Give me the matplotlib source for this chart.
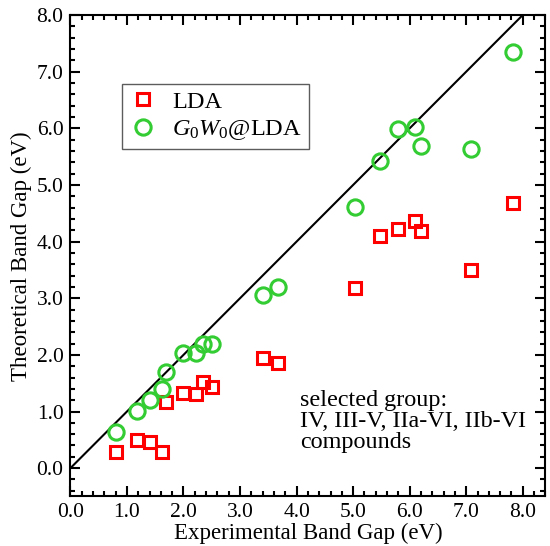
import matplotlib
matplotlib.use("Agg")
import matplotlib.pyplot as plt
from matplotlib.ticker import MultipleLocator, FormatStrFormatter

plt.rcParams['font.family'] = ['Liberation Serif', 'DejaVu Serif']
plt.rcParams['mathtext.fontset'] = 'custom'
plt.rcParams['mathtext.rm'] = 'Liberation Serif'
plt.rcParams['mathtext.it'] = 'Liberation Serif:italic'

# Data (eV)
exp_gap = [0.80, 1.17, 1.41, 1.62, 1.69, 2.00, 2.22, 2.34, 2.51, 3.40, 3.68,
           5.03, 5.48, 5.80, 6.10, 6.20, 7.08, 7.83]
lda_gap = [0.29, 0.50, 0.47, 0.29, 1.16, 1.33, 1.31, 1.52, 1.44, 1.94, 1.86,
           3.18, 4.10, 4.22, 4.37, 4.18, 3.49, 4.68]
gw_gap = [0.64, 1.01, 1.21, 1.40, 1.70, 2.03, 2.03, 2.20, 2.20, 3.05, 3.20,
          4.61, 5.42, 5.98, 6.03, 5.68, 5.63, 7.35]
diag = [0.0, 8.0]

red = '#ff0000'
green = '#33cc33'

fig = plt.figure(figsize=(5.5, 5.46), dpi=100)
ax = fig.add_axes([0.128, 0.0907, 0.8636, 0.8818])

ax.plot(diag, diag, color='black', lw=1.5, zorder=1)
ax.plot(exp_gap, lda_gap, linestyle='none', marker='s', ms=9, mfc='none',
        mec=red, mew=2.2, label='LDA', zorder=2)
ax.plot(exp_gap, gw_gap, linestyle='none', marker='o', ms=11, mfc='none',
        mec=green, mew=2.2, label=r'$G_0W_0$@LDA', zorder=3)

ax.set_xlim(0, 8.4)
ax.set_ylim(-0.5, 8.0)
ax.xaxis.set_major_locator(MultipleLocator(1.0))
ax.xaxis.set_minor_locator(MultipleLocator(0.2))
ax.yaxis.set_major_locator(MultipleLocator(1.0))
ax.yaxis.set_minor_locator(MultipleLocator(0.2))
ax.xaxis.set_major_formatter(FormatStrFormatter('%.1f'))
ax.yaxis.set_major_formatter(FormatStrFormatter('%.1f'))
ax.tick_params(which='both', direction='in', top=True, right=True,
               labelsize=15.5, width=1.5)
ax.tick_params(which='major', length=7, pad=5)
ax.tick_params(which='minor', length=3.6)
for s in ax.spines.values():
    s.set_linewidth(1.5)

ax.set_xlabel('Experimental Band Gap (eV)', fontsize=16.5, labelpad=0)
ax.set_ylabel('Theoretical Band Gap (eV)', fontsize=16.5, labelpad=3)

ax.text(4.06, 1.38, 'selected group:\nIV, III-V, IIa-VI, IIb-VI\ncompounds',
        fontsize=17.4, ha='left', va='top', linespacing=1.0)

leg = ax.legend(loc='upper left', bbox_to_anchor=(0.108, 0.857), fontsize=17.5,
                frameon=True, fancybox=False, edgecolor='#333333',
                borderpad=0.28, handlelength=1.2, handletextpad=0.6,
                labelspacing=0.22, borderaxespad=0)
leg.get_frame().set_linewidth(1.0)

fig.savefig('out.png', dpi=100)
